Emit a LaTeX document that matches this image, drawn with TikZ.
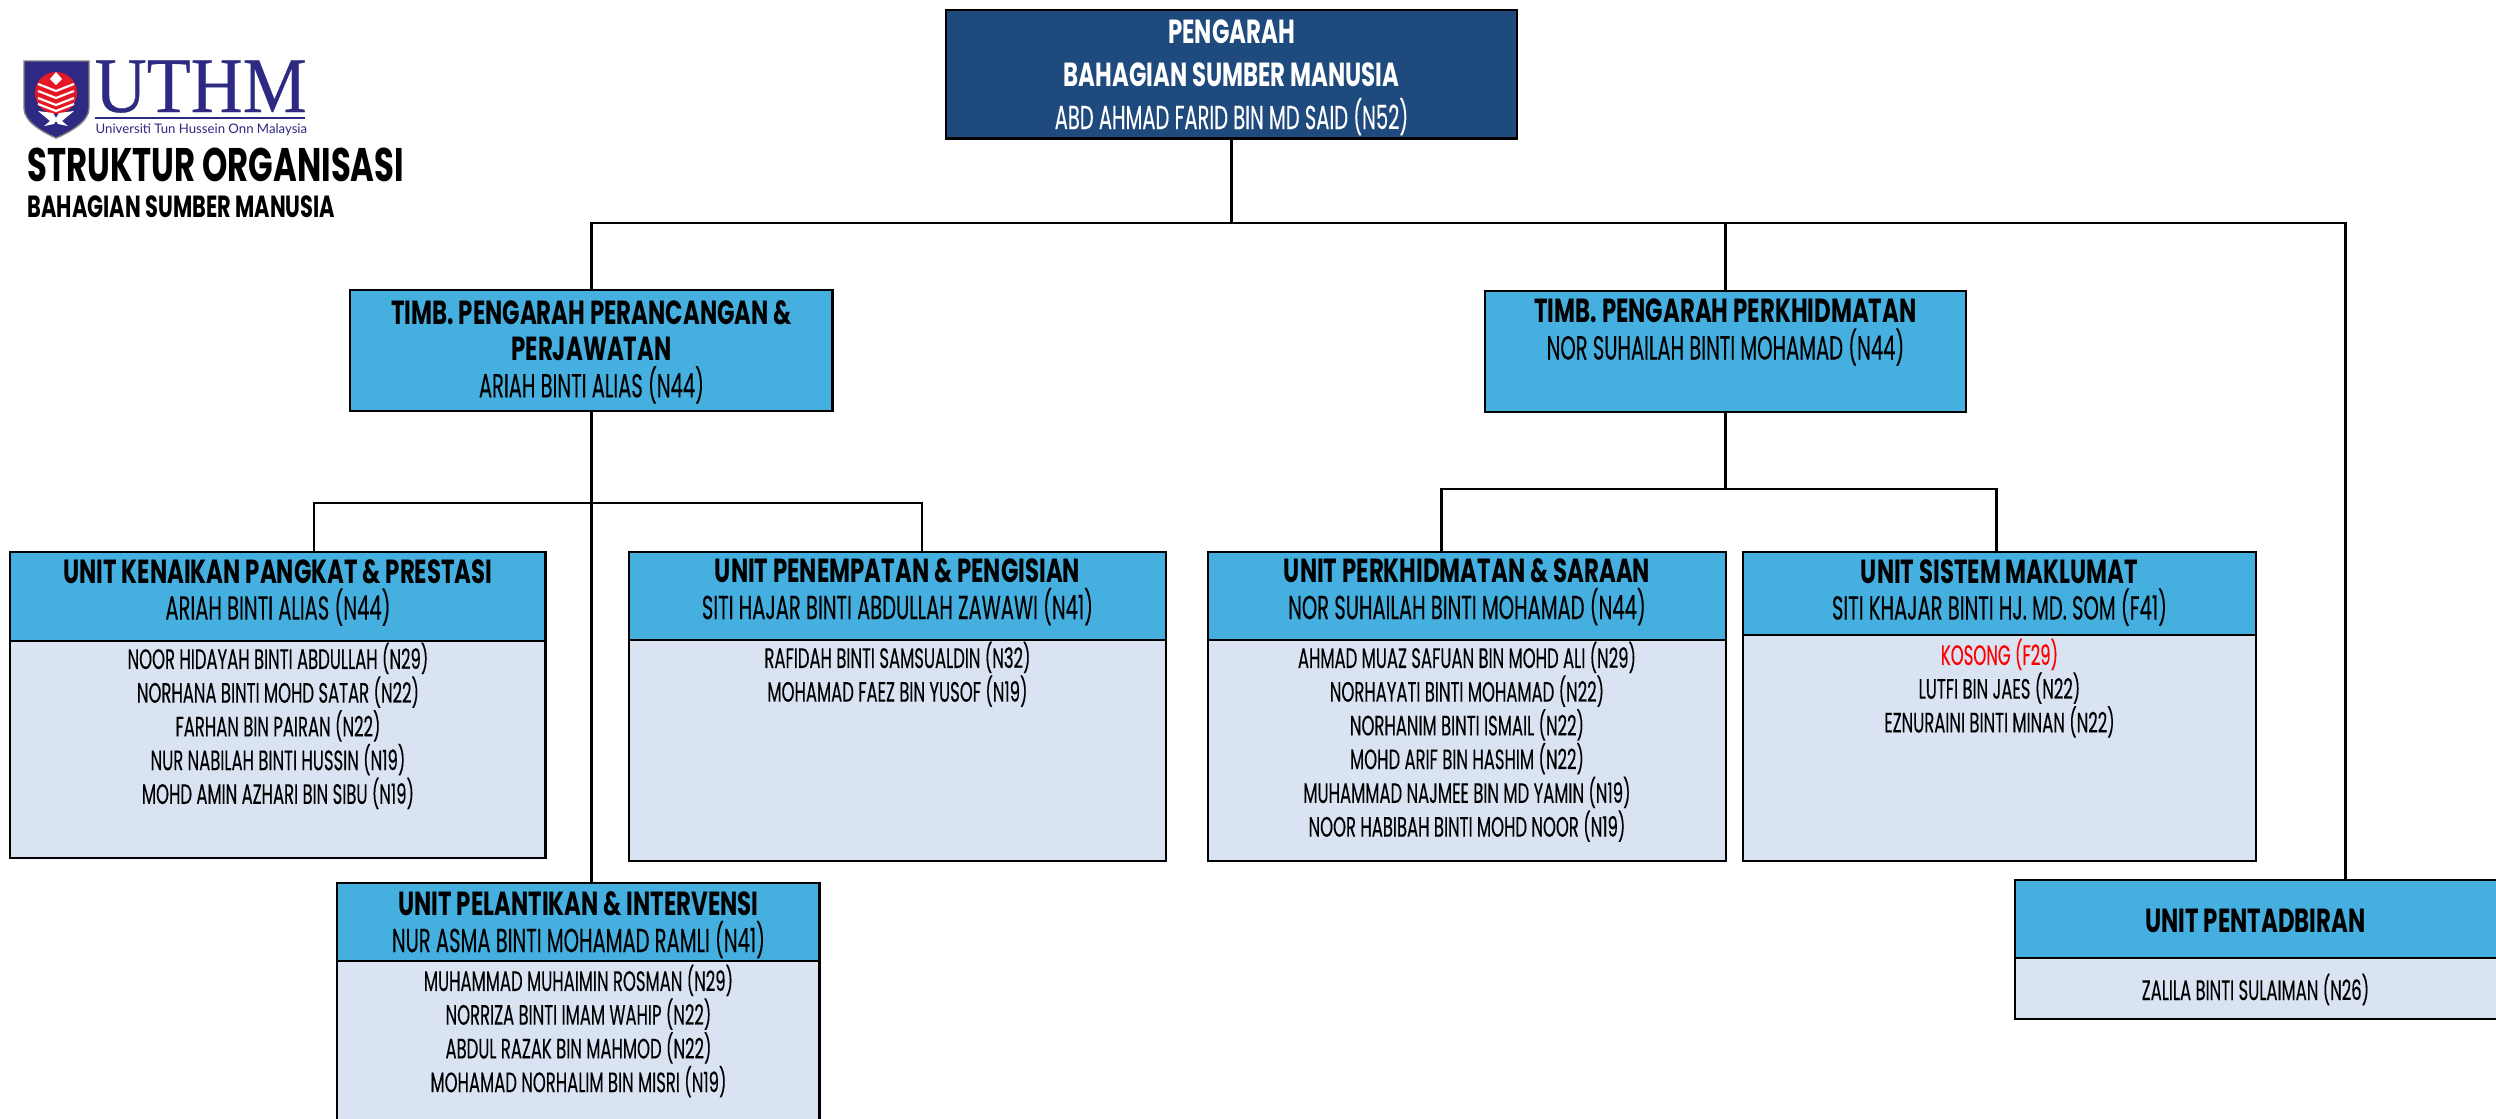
\documentclass[tikz,border=0pt]{standalone}
\usepackage{fontspec}
\setmainfont[UprightFeatures={FakeStretch=0.585,FakeBold=0.25},BoldFeatures={FakeStretch=0.685}]{Poppins}
\newfontfamily\logofont[FakeStretch=0.915,FakeBold=0.3]{Liberation Serif}
\newfontfamily\logosans{Lato}
\usetikzlibrary{arrows}
\definecolor{ddblue}{rgb}{0.12,0.29,0.49}
\definecolor{hdblue}{rgb}{0.27,0.69,0.88}
\definecolor{bdblue}{rgb}{0.85,0.89,0.95}
\definecolor{lgblue}{rgb}{0.18,0.16,0.51}
\definecolor{lgred}{rgb}{0.9,0.1,0.15}
\tikzset{
  topbox/.style={draw=black,line width=0.85pt,fill=ddblue,anchor=north west,inner sep=0pt},
  toptext/.style={text=white,inner sep=0pt,align=center,font=\fontsize{9.5}{12.2}\selectfont},
  headbox/.style={draw=black,line width=0.85pt,fill=hdblue,anchor=north west,inner sep=0pt},
  headtext/.style={inner sep=0pt,align=center,font=\fontsize{9.5}{10.4}\selectfont},
  bodybox/.style={draw=black,line width=0.85pt,fill=bdblue,anchor=north west,inner sep=0pt},
  namelist/.style={anchor=north,inner sep=0pt,align=center,font=\fontsize{8}{9.6}\selectfont},
  conn/.style={line width=0.85pt}
}
\begin{document}
\begin{tikzpicture}[line cap=butt,line join=miter,x=0.1mm,y=-0.1mm]
      \useasboundingbox (0,0) rectangle (2496,1119);
      \clip (0,0) rectangle (2496,1119);
      \fill[white] (0,0) rectangle (2496,1119);
      \fill[color=lgblue,draw=gray,line width=0.4pt] (24,61) -- (89,61) -- (89,108) .. controls (89,122) and (70,132) .. (56,138) .. controls (43,132) and (24,122) .. (24,108) -- cycle;
      \fill[color=lgred] (56,93) circle (21);
      \foreach \y in {84,91,98,104}
      \draw[color=white,line width=0.6pt] (38,\y) -- (56,\y+7) -- (74,\y);
      \fill[color=white] (56,72) -- (62,79) -- (56,85) -- (50,79) -- cycle;
      \fill[color=white] (38,111) -- (53,113) -- (56,118) -- (59,113) -- (74,111) -- (62,121) -- (68,126) -- (58,124) -- (56,121) -- (54,124) -- (44,126) -- (50,121) -- cycle;
      \node[anchor=south west,inner sep=0pt,text=lgblue,font=\logofont\fontsize{22.4}{24}\selectfont] (logoname) at (94,113.5) {UTHM};
      \draw[color=lgblue,line width=0.4pt] (95,118) -- (305,118);
      \node[anchor=north west,inner sep=0pt,text=lgblue,font=\logosans\fontsize{3.75}{4}\selectfont] (logouni) at (95,123) {Universiti Tun Hussein Onn Malaysia};
      \node[anchor=base west,inner sep=0pt,font=\bfseries\fontsize{13.4}{15}\selectfont] (judul) at (27,181) {STRUKTUR ORGANISASI};
      \node[anchor=base west,inner sep=0pt,font=\bfseries\fontsize{8.7}{10}\selectfont] (subjudul) at (27,217) {BAHAGIAN SUMBER MANUSIA};

      \coordinate (busatas) at (1231,223);
      \coordinate (busurus) at (2345,223);
      \coordinate (buskiri) at (314,503);
      \coordinate (buskanan) at (922,503);
      \coordinate (khidkiri) at (1441,489);
      \coordinate (khidkanan) at (1996,489);

      \begin{scope}[shift={(-1.5,-1.5)}]
      \node[topbox,minimum width=57.1mm,minimum height=12.9mm] (pengarah) at (946,10) {};
      \node[toptext] (pengarahtxt) at ([yshift=-0.3mm]pengarah.center) {\textbf{PENGARAH}\\\textbf{BAHAGIAN SUMBER MANUSIA}\\ABD AHMAD FARID BIN MD SAID (N52)};
      \node[headbox,minimum width=48.3mm,minimum height=12.1mm] (timbplan) at (350,290) {};
      \node[headtext] (timbplantxt) at ([yshift=-0.15mm]timbplan.center) {\textbf{TIMB. PENGARAH PERANCANGAN \&}\\\textbf{PERJAWATAN}\\ARIAH BINTI ALIAS (N44)};
      \node[headbox,minimum width=48.1mm,minimum height=12.1mm] (timbkhid) at (1485,291) {};
      \node[headtext] (timbkhidtxt) at ([yshift=1.9mm]timbkhid.center) {\textbf{TIMB. PENGARAH PERKHIDMATAN}\\NOR SUHAILAH BINTI MOHAMAD (N44)};

      \node[bodybox,minimum width=53.6mm,minimum height=21.7mm] (ukppbody) at (10,641) {};
      \node[headbox,minimum width=53.6mm,minimum height=8.9mm] (ukpphead) at (10,552) {};
      \node[headtext] (ukpptxt) at ([yshift=0.4mm]ukpphead.center) {\textbf{UNIT KENAIKAN PANGKAT \& PRESTASI}\\ARIAH BINTI ALIAS (N44)};
      \node[namelist] (ukppnama) at ([yshift=-0.25mm]ukppbody.north) {NOOR HIDAYAH BINTI ABDULLAH (N29)\\NORHANA BINTI MOHD SATAR (N22)\\FARHAN BIN PAIRAN (N22)\\NUR NABILAH BINTI HUSSIN (N19)\\MOHD AMIN AZHARI BIN SIBU (N19)};

      \node[bodybox,minimum width=53.7mm,minimum height=22.1mm] (uppbody) at (629,640) {};
      \node[headbox,minimum width=53.7mm,minimum height=8.8mm] (upphead) at (629,552) {};
      \node[headtext] (upptxt) at ([yshift=0.4mm]upphead.center) {\textbf{UNIT PENEMPATAN \& PENGISIAN}\\SITI HAJAR BINTI ABDULLAH ZAWAWI (N41)};
      \node[namelist] (uppnama) at ([yshift=-0.25mm]uppbody.north) {RAFIDAH BINTI SAMSUALDIN (N32)\\MOHAMAD FAEZ BIN YUSOF (N19)};

      \node[bodybox,minimum width=51.8mm,minimum height=22.1mm] (upsbody) at (1208,640) {};
      \node[headbox,minimum width=51.8mm,minimum height=8.8mm] (upshead) at (1208,552) {};
      \node[headtext] (upstxt) at ([yshift=0.4mm]upshead.center) {\textbf{UNIT PERKHIDMATAN \& SARAAN}\\NOR SUHAILAH BINTI MOHAMAD (N44)};
      \node[namelist] (upsnama) at ([yshift=-0.25mm]upsbody.north) {AHMAD MUAZ SAFUAN BIN MOHD ALI (N29)\\NORHAYATI BINTI MOHAMAD (N22)\\NORHANIM BINTI ISMAIL (N22)\\MOHD ARIF BIN HASHIM (N22)\\MUHAMMAD NAJMEE BIN MD YAMIN (N19)\\NOOR HABIBAH BINTI MOHD NOOR (N19)};

      \node[bodybox,minimum width=51.3mm,minimum height=22.6mm] (usmbody) at (1743,635) {};
      \node[headbox,minimum width=51.3mm,minimum height=8.3mm] (usmhead) at (1743,552) {};
      \node[headtext] (usmtxt) at ([yshift=0.1mm]usmhead.center) {\textbf{UNIT SISTEM MAKLUMAT}\\SITI KHAJAR BINTI HJ. MD. SOM (F41)};
      \node[namelist] (usmnama) at ([yshift=-0.45mm]usmbody.north) {\textcolor{red}{KOSONG (F29)}\\LUTFI BIN JAES (N22)\\EZNURAINI BINTI MINAN (N22)};

      \node[bodybox,minimum width=48.3mm,minimum height=17mm] (upibody) at (337,961) {};
      \node[headbox,minimum width=48.3mm,minimum height=7.8mm] (upihead) at (337,883) {};
      \node[headtext] (upitxt) at ([yshift=-0.3mm]upihead.center) {\textbf{UNIT PELANTIKAN \& INTERVENSI}\\NUR ASMA BINTI MOHAMAD RAMLI (N41)};
      \node[namelist] (upinama) at ([yshift=-0.45mm]upibody.north) {MUHAMMAD MUHAIMIN ROSMAN (N29)\\NORRIZA BINTI IMAM WAHIP (N22)\\ABDUL RAZAK BIN MAHMOD (N22)\\MOHAMAD NORHALIM BIN MISRI (N19)};

      \node[bodybox,minimum width=48.6mm,minimum height=6.1mm] (upnbody) at (2015,958) {};
      \node[headbox,minimum width=48.6mm,minimum height=7.8mm] (upnhead) at (2015,880) {};
      \node[headtext] (upntxt) at ([xshift=-0.25mm,yshift=-0.15mm]upnhead.center) {\textbf{UNIT PENTADBIRAN}};
      \node[namelist,anchor=center] (upnnama) at ([xshift=-0.25mm,yshift=-0.1mm]upnbody.center) {ZALILA BINTI SULAIMAN (N26)};
      \end{scope}

      \draw[conn] (pengarah.south -| busatas) -- (busatas);
      \draw[conn] (timbplan.north) |- (busurus) -- (busurus |- upnhead.north);
      \draw[conn] (timbkhid.north) -- (timbkhid.north |- busatas);
      \draw[conn] (timbplan.south) -- (timbplan.south |- upihead.north);
      \draw[conn] (buskiri |- ukpphead.north) |- (buskanan) -- (buskanan |- upphead.north);
      \draw[conn] (timbkhid.south) -- (timbkhid.south |- khidkiri);
      \draw[conn] (khidkiri |- upshead.north) |- (khidkanan) -- (khidkanan |- usmhead.north);
    \end{tikzpicture}
\end{document}
